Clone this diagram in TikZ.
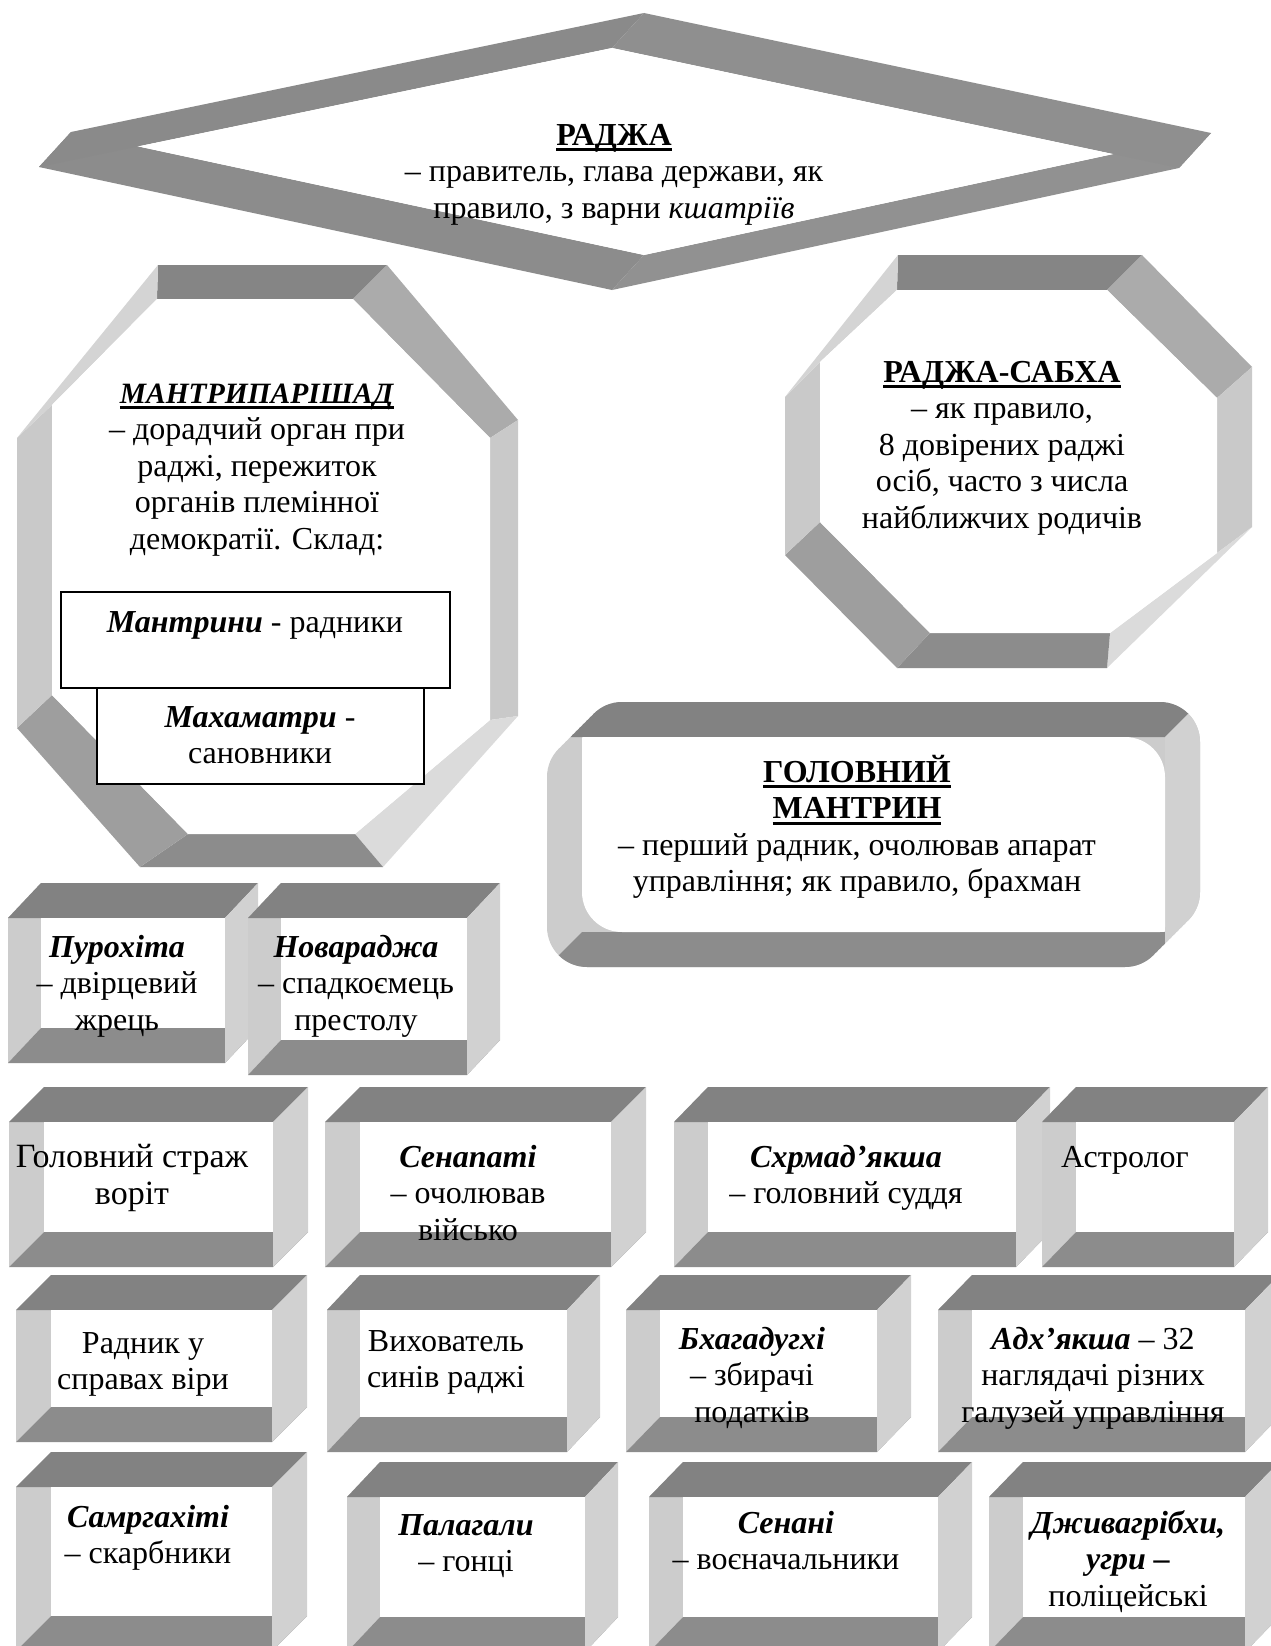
\documentclass[tikz,border=0pt]{standalone}
\usepackage{fontspec}
\setmainfont{Liberation Serif}
\definecolor{bxT}{gray}{0.51}
\definecolor{bxB}{gray}{0.55}
\definecolor{bxL}{gray}{0.80}
\definecolor{bxR}{gray}{0.82}
\definecolor{oT}{gray}{0.52}
\definecolor{oUR}{gray}{0.67}
\definecolor{oR}{gray}{0.79}
\definecolor{oLR}{gray}{0.86}
\definecolor{oB}{gray}{0.55}
\definecolor{oLL}{gray}{0.62}
\definecolor{oL}{gray}{0.79}
\definecolor{oUL}{gray}{0.83}
\definecolor{dUL}{gray}{0.54}
\definecolor{dUR}{gray}{0.56}
\definecolor{dLR}{gray}{0.57}
\definecolor{dLL}{gray}{0.55}
\newcommand\myu[1]{\setbox0=\hbox{#1}\rlap{\rule[-6pt]{\wd0}{3pt}}\box0}
\newcommand\ml[1]{\begin{tabular}[t]{@{}c@{}}#1\end{tabular}}
\newcommand\bi[1]{\textbf{\textit{#1}}}
% bevel box: x0, y0(top), x1, y1(bottom), dx, dy
\newcommand\bevbox[6]{%
  \fill[bxL] (#1,#2+#6) -- (#1+#5,#2) -- (#1+#5,#4-#6) -- (#1,#4) -- cycle;
  \fill[bxT] (#1+#5,#2) -- (#3,#2) -- (#3-#5,#2+#6) -- (#1,#2+#6) -- cycle;
  \fill[bxB] (#1,#4) -- (#3-#5,#4) -- (#3,#4-#6) -- (#1+#5,#4-#6) -- cycle;
  \fill[bxR] (#3-#5,#2+#6) -- (#3,#2) -- (#3,#4-#6) -- (#3-#5,#4) -- cycle;
  \fill[white] (#1+#5,#2+#6) rectangle (#3-#5,#4-#6);}
\begin{document}
\begin{tikzpicture}[x=1pt,y=-1pt,
  every node/.style={inner sep=0pt, anchor=base, font=\fontsize{32}{36.5}\selectfont},
  bigtext/.style={font=\fontsize{34}{37}\selectfont},
  smallrect/.style={draw=black, line width=1.3pt, fill=white}]
\useasboundingbox (0,0) rectangle (1271,1646);
\clip (0,0) rectangle (1271,1646);
\fill[white] (0,0) rectangle (1271,1646);

% ---------- diamond (РАДЖА) ----------
\coordinate (dFl) at (39,167);  \coordinate (dFt) at (612,48);
\coordinate (dFr) at (1179,168); \coordinate (dFb) at (612,290);
\coordinate (dBl) at (71,132);  \coordinate (dBt) at (644,13);
\coordinate (dBr) at (1211,133); \coordinate (dBb) at (644,255);
\fill[dLL] (dFb)--(dFl)--(dBl)--(dBb)--cycle;
\fill[dLR] (dFr)--(dFb)--(dBb)--(dBr)--cycle;
\fill[dUL] (dFl)--(dFt)--(dBt)--(dBl)--cycle;
\fill[dUR] (dFt)--(dFr)--(dBr)--(dBt)--cycle;
\begin{scope}
  \clip (dFl)--(dFt)--(dFr)--(dFb)--cycle;
  \fill[white] (dBl)--(dBt)--(dBr)--(dBb)--cycle;
\end{scope}

% ---------- octagon МАНТРИПАРІШАД ----------
\coordinate (mo1) at (158,265); \coordinate (mo2) at (387,265);
\coordinate (mo3) at (518,420); \coordinate (mo4) at (518,716);
\coordinate (mo5) at (383,867); \coordinate (mo6) at (140,867);
\coordinate (mo7) at (17,728);  \coordinate (mo8) at (17,438);
\coordinate (mi1) at (157,299); \coordinate (mi2) at (353,299);
\coordinate (mi3) at (490,438); \coordinate (mi4) at (490,720);
\coordinate (mi5) at (355,834); \coordinate (mi6) at (188,834);
\coordinate (mi7) at (52,695);  \coordinate (mi8) at (52,405);
\foreach \i/\j/\c in {1/2/oT,2/3/oUR,3/4/oR,4/5/oLR,5/6/oB,6/7/oLL,7/8/oL,8/1/oUL}
  \fill[\c] (mo\i)--(mo\j)--(mi\j)--(mi\i)--cycle;
\fill[white] (mi1)--(mi2)--(mi3)--(mi4)--(mi5)--(mi6)--(mi7)--(mi8)--cycle;

% ---------- octagon РАДЖА-САБХА ----------
\coordinate (so1) at (898,255);  \coordinate (so2) at (1142,255);
\coordinate (so3) at (1252,367); \coordinate (so4) at (1252,527);
\coordinate (so5) at (1107,668); \coordinate (so6) at (897,668);
\coordinate (so7) at (785,555);  \coordinate (so8) at (785,397);
\coordinate (si1) at (897,290);  \coordinate (si2) at (1107,290);
\coordinate (si3) at (1217,398); \coordinate (si4) at (1217,553);
\coordinate (si5) at (1110,633); \coordinate (si6) at (930,633);
\coordinate (si7) at (820,522);  \coordinate (si8) at (820,362);
\foreach \i/\j/\c in {1/2/oT,2/3/oUR,3/4/oR,4/5/oLR,5/6/oB,6/7/oLL,7/8/oL,8/1/oUL}
  \fill[\c] (so\i)--(so\j)--(si\j)--(si\i)--cycle;
\fill[white] (si1)--(si2)--(si3)--(si4)--(si5)--(si6)--(si7)--(si8)--cycle;

% ---------- rounded box ГОЛОВНИЙ МАНТРИН ----------
\begin{scope}
  \clip[rounded corners=40pt] \foreach \t in {0,0.1,...,1.01} {(547+35*\t,737-35*\t) rectangle (1165+35*\t,967-35*\t)};
  \fill[bxL] (540,690) rectangle (1215,980);
  \fill[bxT] (547,737)--(589,695)--(1207,695)--(1165,737)--cycle;
  \fill[bxB] (540,974)--(582,932)--(1165,932)--(1165,974)--cycle;
  \fill[bxR] (1165,737)--(1207,695)--(1215,695)--(1215,980)--(1165,980)--cycle;
\end{scope}
\begin{scope}
  \clip[rounded corners=40pt] (547,737) rectangle (1165,967);
  \fill[white, rounded corners=40pt] (582,702) rectangle (1200,932);
\end{scope}

% ---------- bevel boxes ----------
\bevbox{8}{883}{258}{1063}{33}{35}
\bevbox{248}{883}{500}{1075}{33}{35}
\bevbox{9}{1087}{308}{1267}{35}{35}
\bevbox{325}{1087}{646}{1267}{35}{35}
\bevbox{674}{1087}{1050}{1267}{34}{35}
\bevbox{1042}{1087}{1268}{1267}{34}{35}
\bevbox{16}{1275}{307}{1442}{35}{35}
\bevbox{327}{1275}{600}{1452}{33}{35}
\bevbox{626}{1275}{911}{1452}{34}{35}
\bevbox{938}{1275}{1279}{1452}{34}{35}
\bevbox{16}{1452}{307}{1651}{35}{35}
\bevbox{347}{1462}{618}{1652}{33}{35}
\bevbox{649}{1462}{972}{1652}{34}{35}
\bevbox{989}{1462}{1279}{1652}{34}{35}

% ---------- small rectangles ----------
\draw[smallrect] (61,592) rectangle (450,688);
\draw[smallrect] (97,688) rectangle (424,784);

% ---------- texts ----------
\node (raja) at (614,145) {\ml{\myu{\textbf{РАДЖА}}\\– правитель, глава держави, як\\правило, з варни \textit{кшатріїв}}};
\node (mantri) at (257,403) {\ml{\myu{\fontsize{29.5}{36.5}\selectfont\bi{МАНТРИПАРІШАД}}\\– дорадчий орган при\\раджі, пережиток\\органів племінної\\демократії. Склад:}};
\node (mantrini) at (255,632) {\bi{Мантрини} - радники};
\node (mahamatri) at (260,727) {\ml{\bi{Махаматри} -\\сановники}};
\node (sabha) at (1002,382) {\ml{\myu{\textbf{РАДЖА-САБХА}}\\– як правило,\\8 довірених раджі\\осіб, часто з числа\\найближчих родичів}};
\node (golov) at (857,782) {\ml{\myu{\textbf{ГОЛОВНИЙ}}\\\myu{\textbf{МАНТРИН}}\\– перший радник, очолював апарат\\управління; як правило, брахман}};

\node (purohita) at (117,957) {\ml{\bi{Пурохіта}\\– двірцевий\\жрець}};
\node (novaraja) at (356,957) {\ml{\bi{Новараджа}\\– спадкоємець\\престолу}};

\node[bigtext] (strazh) at (132,1167) {\ml{Головний страж\\воріт}};
\node (senapati) at (468,1167) {\ml{\bi{Сенапаті}\\– очолював\\військо}};
\node (shrmad) at (846,1167) {\ml{\bi{Схрмад’якша}\\– головний суддя}};
\node (astrolog) at (1125,1167) {Астролог};

\node (radnyk) at (143,1353) {\ml{Радник у\\справах віри}};
\node (vyhovatel) at (446,1351) {\ml{Вихователь\\синів раджі}};
\node (bhagadughi) at (752,1349) {\ml{\bi{Бхагадугхі}\\– збирачі\\податків}};
\node (adhyaksha) at (1093,1349) {\ml{\bi{Адх’якша} – 32\\наглядачі різних\\галузей управління}};

\node (samgrahiti) at (148,1527) {\ml{\bi{Самргахіті}\\– скарбники}};
\node (palagaly) at (466,1535) {\ml{\bi{Палагали}\\– гонці}};
\node (senani) at (786,1533) {\ml{\bi{Сенані}\\– воєначальники}};
\node (dzhyva) at (1128,1533) {\ml{\bi{Дживагрібхи,}\\\bi{угри –}\\поліцейські}};
\end{tikzpicture}
\end{document}
